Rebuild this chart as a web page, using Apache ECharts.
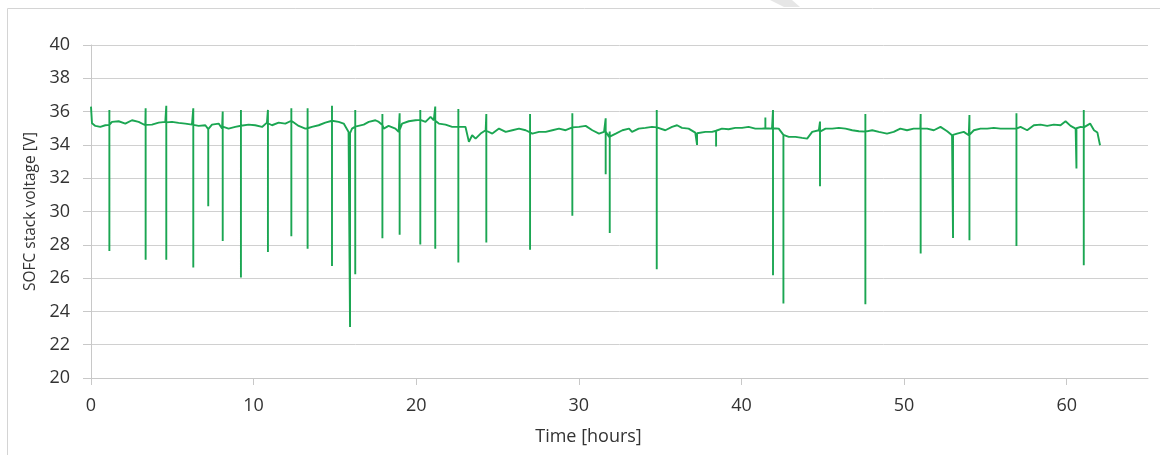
<!DOCTYPE html>
<html>
<head>
<meta charset="utf-8">
<script src="https://cdn.jsdelivr.net/npm/echarts@6/dist/echarts.min.js"></script>
<style>
  html, body { margin: 0; padding: 0; background: #fff; }
  #chart { width: 1160px; height: 455px; }
</style>
</head>
<body>
<div id="chart"></div>
<script>
// time [hours], voltage [V] of the slow baseline
var baseline = [
  [0, 36.3], [0.06, 35.3], [0.27, 35.14], [0.57, 35.08], [0.88, 35.18], [1.29, 35.38], [1.7, 35.42],
  [2.11, 35.28], [2.52, 35.48], [2.93, 35.38], [3.34, 35.18], [3.75, 35.22], [4.16, 35.34], [4.57, 35.38],
  [4.98, 35.38], [5.39, 35.32], [5.8, 35.28], [6.21, 35.22], [6.62, 35.14], [7.03, 35.18], [7.23, 34.98],
  [7.44, 35.22], [7.85, 35.28], [8.06, 34.98], [8.46, 34.98], [8.87, 35.08], [9.29, 35.18], [9.69, 35.22],
  [10.1, 35.18], [10.52, 35.08], [10.82, 35.34], [11.13, 35.18], [11.54, 35.34], [11.95, 35.28], [12.36, 35.48],
  [12.77, 35.14], [13.18, 34.98], [13.59, 35.08], [14.0, 35.18], [14.41, 35.34], [14.82, 35.48], [15.23, 35.38],
  [15.54, 35.28], [15.84, 34.78], [16.05, 34.98], [16.36, 35.14], [16.77, 35.22],
  [17.08, 35.38], [17.49, 35.48], [17.7, 35.38], [18.0, 34.98], [18.3, 35.14], [18.72, 34.98], [18.92, 34.78],
  [19.13, 35.28], [19.54, 35.42], [19.95, 35.48], [20.26, 35.58], [20.57, 35.38], [20.88, 35.68], [21.08, 35.48],
  [21.39, 35.28], [21.8, 35.22], [22.21, 35.08], [22.62, 35.08], [23.03, 35.08], [23.24, 34.18], [23.44, 34.58],
  [23.65, 34.38], [23.96, 34.68], [24.27, 34.88], [24.68, 34.68], [25.09, 34.98], [25.5, 34.78], [25.91, 34.88],
  [26.32, 34.98], [26.73, 34.88], [27.14, 34.68], [27.55, 34.78], [27.96, 34.78], [28.37, 34.88], [28.78, 34.98],
  [29.19, 34.88], [29.6, 35.08], [30.01, 35.08], [30.42, 35.14], [30.83, 34.88], [31.24, 34.68], [31.55, 34.78],
  [31.86, 34.48], [32.27, 34.68], [32.68, 34.88],
  [33.09, 34.98], [33.27, 34.78], [33.68, 34.98], [34.09, 35.02], [34.5, 35.08], [34.91, 34.98], [35.32, 34.88],
  [35.73, 35.08], [36.04, 35.18], [36.34, 35.02], [36.75, 34.98], [37.16, 34.74], [37.37, 34.68], [37.78, 34.78],
  [38.19, 34.78], [38.5, 34.88], [38.8, 34.98], [39.21, 34.94], [39.62, 35.02], [40.03, 35.02], [40.44, 35.08],
  [40.85, 34.98], [41.26, 34.98], [41.57, 35.08], [41.88, 34.98], [42.29, 34.98], [42.6, 34.58], [42.91, 34.48],
  [43.32, 34.48], [43.73, 34.42], [44.04, 34.38], [44.35, 34.78], [44.76, 34.88], [45.17, 34.98], [45.58, 34.98],
  [45.99, 35.02], [46.4, 34.98], [46.81, 34.88], [47.22, 34.82], [47.63, 34.78], [48.04, 34.88], [48.45, 34.78],
  [48.95, 34.68], [49.36, 34.78], [49.77, 34.98], [50.18, 34.88], [50.59, 34.98], [51.0, 34.98], [51.42, 34.98],
  [51.83, 34.88], [52.24, 35.08], [52.65, 34.82], [52.95, 34.58], [53.26, 34.68], [53.67, 34.78], [53.98, 34.58],
  [54.29, 34.88], [54.7, 34.98], [55.11, 34.98], [55.52, 35.02], [55.93, 34.98], [56.34, 34.98], [56.75, 34.98],
  [57.16, 35.08], [57.57, 34.88], [57.98, 35.18], [58.39, 35.22], [58.8, 35.14], [59.21, 35.22], [59.62, 35.18],
  [59.93, 35.42], [60.24, 35.14], [60.55, 34.98], [60.86, 35.08], [61.17, 34.98], [61.44, 35.28], [61.68, 34.88],
  [61.89, 34.74], [62.05, 33.98]
];

// short transients: [time, level before, top, bottom]
var spikes = [
  [1.13, 35.2, 36.1, 27.63], [3.36, 35.2, 36.2, 27.1], [4.63, 35.35, 36.35, 27.1], [6.29, 35.2, 36.2, 26.63],
  [7.21, 34.95, 35.0, 30.32], [8.1, 35.1, 36.0, 28.23], [9.22, 35.15, 36.1, 26.03], [10.88, 35.3, 36.1, 27.57],
  [12.32, 35.45, 36.2, 28.52], [13.32, 35.0, 36.2, 27.77], [14.82, 35.45, 36.35, 26.73], [15.93, 34.7, 34.7, 23.06],
  [16.25, 35.1, 36.1, 26.23], [17.92, 35.2, 35.85, 28.4], [18.98, 34.9, 35.9, 28.6], [20.25, 35.5, 36.1, 28.02],
  [21.17, 35.45, 36.3, 27.77], [22.59, 35.1, 36.15, 26.93], [24.31, 34.85, 35.85, 28.14], [27.0, 34.75, 35.85, 27.71],
  [29.6, 35.05, 35.9, 29.74], [31.65, 34.8, 35.6, 32.24], [31.9, 34.5, 34.8, 28.71], [34.79, 35.05, 36.1, 26.53],
  [37.27, 34.7, 34.7, 34.0], [38.44, 34.85, 34.85, 33.9], [41.47, 35.0, 35.65, 35.0], [41.94, 35.0, 36.1, 26.17],
  [42.58, 34.6, 34.6, 24.47], [44.83, 34.8, 35.4, 31.52], [47.62, 34.8, 35.85, 24.43], [51.02, 34.98, 35.85, 27.47],
  [53.01, 34.6, 34.6, 28.41], [54.02, 34.6, 35.8, 28.27], [56.91, 34.98, 35.9, 27.93], [60.6, 35.0, 35.0, 32.58],
  [61.05, 35.05, 36.1, 26.77]
];

var xTicks = [0, 10, 20, 30, 40, 50, 60];

// merge baseline and spikes in time order
var points = [];
var si = 0;
for (var i = 0; i < baseline.length; i++) {
  while (si < spikes.length && spikes[si][0] <= baseline[i][0]) {
    var s = spikes[si];
    points.push([s[0], s[1]], [s[0], s[2]], [s[0], s[3]], [s[0], s[1]]);
    si++;
  }
  points.push(baseline[i]);
}

var font = '"Open Sans", "Liberation Sans", sans-serif';
var chart = echarts.init(document.getElementById('chart'));
chart.setOption({
  animation: false,
  grid: {
    left: 91,
    right: 12,
    top: 45,
    bottom: 77
  },
  graphic: [
    {
      type: 'rect',
      shape: { x: 7.5, y: 8.5, width: 1300, height: 600 },
      style: { fill: 'none', stroke: '#d4d4d4', lineWidth: 1 },
      silent: true
    },
    {
      type: 'polygon',
      shape: { points: [[770, 0], [792, 0], [800, 7], [784, 7]] },
      style: { fill: '#e6e6e6' },
      silent: true
    }
  ],
  xAxis: {
    type: 'value',
    min: 0,
    max: 65,
    interval: 10,
    name: 'Time [hours]',
    nameLocation: 'middle',
    nameGap: 50,
    nameTextStyle: {
      color: '#333',
      fontSize: 18,
      fontFamily: font,
      padding: [0, 62, 0, 0]
    },
    axisLine: { show: true, lineStyle: { color: '#c8c8c8' } },
    axisTick: { show: true, length: 7, customValues: xTicks, lineStyle: { color: '#c8c8c8' } },
    axisLabel: { customValues: xTicks, color: '#333', fontSize: 18, fontFamily: font, margin: 19 },
    splitLine: { show: false }
  },
  yAxis: {
    type: 'value',
    min: 20,
    max: 40,
    interval: 2,
    name: 'SOFC stack voltage [V]',
    nameLocation: 'middle',
    nameGap: 45,
    nameTextStyle: {
      color: '#333',
      fontSize: 15.5,
      fontFamily: font
    },
    axisLine: { show: true, lineStyle: { color: '#c8c8c8' } },
    axisTick: { show: true, length: 8, lineStyle: { color: '#c8c8c8' } },
    axisLabel: { color: '#333', fontSize: 18, fontFamily: font, margin: 21 },
    splitLine: { show: true, lineStyle: { color: '#d0d0d0', width: 1 } }
  },
  series: [
    {
      type: 'line',
      data: points,
      showSymbol: false,
      symbol: 'none',
      lineStyle: { color: '#1ba652', width: 1.9 },
      z: 3
    }
  ]
});
</script>
</body>
</html>
